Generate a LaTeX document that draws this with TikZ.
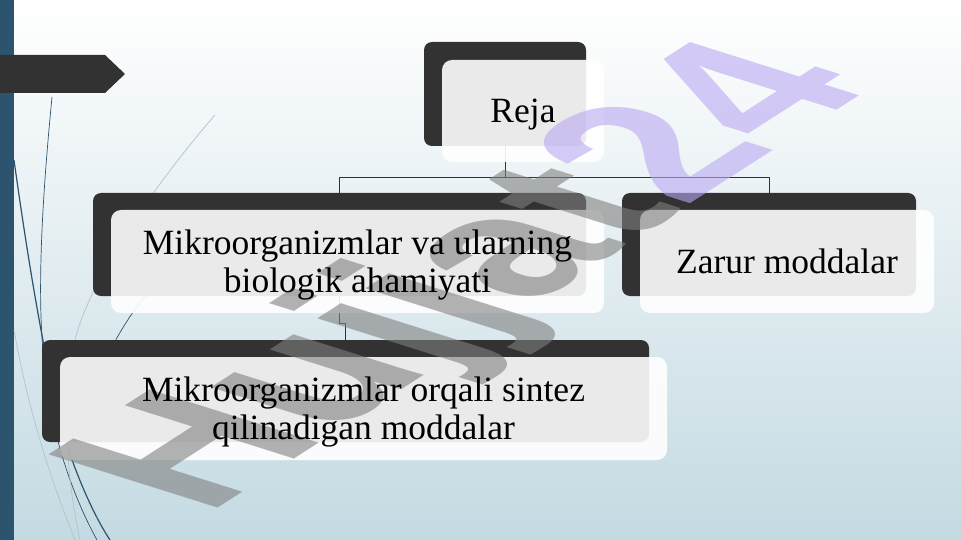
\documentclass[tikz,border=0pt]{standalone}
\usepackage{fontspec}
\setmainfont{Liberation Serif}
\newfontfamily\wmfont{Liberation Sans}
\usepackage{tikz}
\definecolor{darkbox}{RGB}{50,50,50}
\definecolor{slidebar}{RGB}{44,84,110}
\definecolor{wispgray}{RGB}{180,194,202}
\definecolor{bgbottom}{RGB}{196,218,226}
\definecolor{wmgray}{RGB}{128,128,128}
\definecolor{wmpurple}{RGB}{186,168,242}
\newcommand{\plan}[1]{\begin{tabular}{c}#1\end{tabular}}
\def\Reja{\plan{Reja}}
\def\Mikro{\plan{Mikroorganizmlar va ularning\\ biologik ahamiyati}}
\def\Zarur{\plan{Zarur moddalar}}
\def\Sintez{\plan{Mikroorganizmlar orqali sintez\\ qilinadigan moddalar}}

\begin{document}
\begin{tikzpicture}[x=1pt, y=-1pt,
                    backbox/.style={fill=darkbox, rounded corners=8pt, inner sep=0pt},
                    frontbox/.style={fill=white, fill opacity=0.9, rounded corners=10pt, inner sep=0pt},
                    plantext/.style={font=\fontsize{35.5}{38}\selectfont, inner sep=0pt, yshift=-4pt},
                    link/.style={draw=darkbox, line width=0.8pt},
                    wisp/.style={draw=slidebar, line width=0.7pt},
                    watermark/.style={font=\wmfont\bfseries\fontsize{300}{300}\selectfont,
                                      text opacity=0.6, transform shape, inner sep=0pt, text depth=0pt}]
    \useasboundingbox (0,0) rectangle (961,540);
    \shade[top color=white, bottom color=bgbottom] (0,0) rectangle (961,540);
    \fill[slidebar] (0,0) rectangle (14,540);

    \draw[wisp] (52,97) .. controls (42,200) and (36,300) .. (45,370) .. controls (52,440) and (75,500) .. (97,540);
    \draw[wisp, line width=1.2pt] (14,160) .. controls (28,260) and (40,330) .. (55,400) .. controls (65,450) and (90,510) .. (110,540);
    \draw[wisp, draw=wispgray] (215,115) .. controls (150,190) and (90,280) .. (75,340) .. controls (62,400) and (65,470) .. (80,540);
    \draw[wisp] (150,290) .. controls (125,320) and (100,360) .. (85,420);
    \draw[wisp, draw=wispgray] (14,330) .. controls (30,420) and (55,490) .. (75,540);

    \fill[darkbox] (0,55) -- (105,55) -- (125,74) -- (105,93) -- (0,93) -- cycle;

    \node[backbox, minimum width=162, minimum height=104] (rejaBack)   at (505,94) {};
    \node[backbox, minimum width=493, minimum height=103] (mikroBack)  at (339.5,244.5) {};
    \node[backbox, minimum width=294, minimum height=103] (zarurBack)  at (769,244.5) {};
    \node[backbox, minimum width=607, minimum height=102] (sintezBack) at (345.5,391) {};

    \draw[link] (rejaBack.south) -- ++(0,31) -| (mikroBack.north);
    \draw[link] (rejaBack.south) -- ++(0,31) -| (zarurBack.north);
    \draw[link] (mikroBack.south) -- ++(0,27) -| (sintezBack.north);

    \node[frontbox, minimum width=162, minimum height=102] (reja)   at ([shift={(18,17)}]rejaBack) {};
    \node[frontbox, minimum width=493, minimum height=103] (mikro)  at ([shift={(18,17)}]mikroBack) {};
    \node[frontbox, minimum width=294, minimum height=103] (zarur)  at ([shift={(18,17)}]zarurBack) {};
    \node[frontbox, minimum width=607, minimum height=103] (sintez) at ([shift={(18,17.5)}]sintezBack) {};

    \begin{scope}[shift={(452,272)}, yscale=0.45]
        \node[watermark, rotate=55] (wm) {\color{wmgray}Hujjat\color{wmpurple}24};
    \end{scope}

    \node[plantext] (rejaText)   at (reja)   {\Reja};
    \node[plantext] (mikroText)  at (mikro)  {\Mikro};
    \node[plantext] (zarurText)  at (zarur)  {\Zarur};
    \node[plantext] (sintezText) at (sintez) {\Sintez};
\end{tikzpicture}
\end{document}
